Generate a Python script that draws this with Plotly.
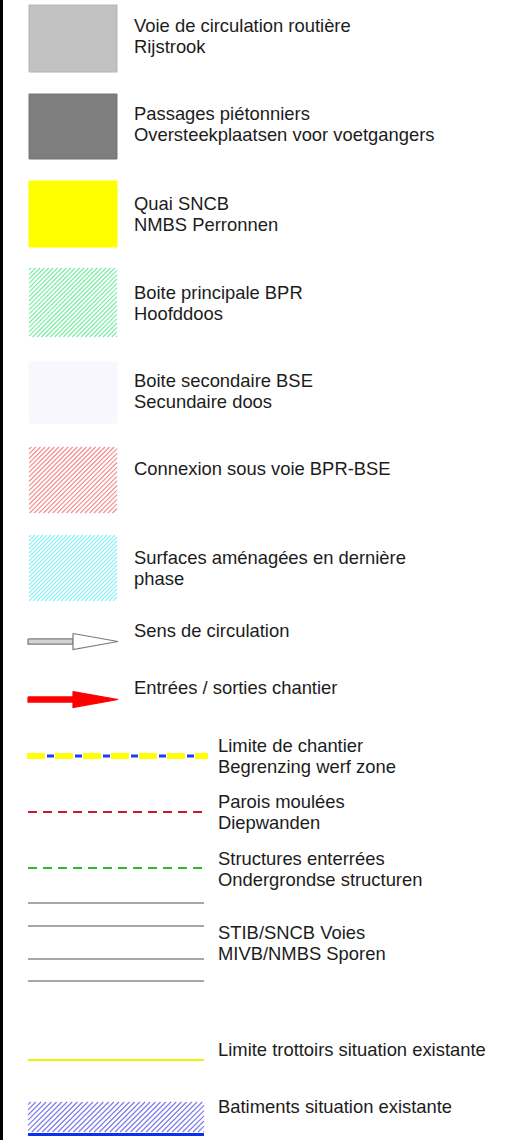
import numpy as np
import plotly.graph_objects as go

# ---------------- data (legend content) ----------------
box_labels = [
    ["Voie de circulation routière", "Rijstrook"],
    ["Passages piétonniers", "Oversteekplaatsen voor voetgangers"],
    ["Quai SNCB", "NMBS Perronnen"],
    ["Boite principale BPR", "Hoofddoos"],
    ["Boite secondaire BSE", "Secundaire doos"],
    ["Connexion sous voie BPR-BSE"],
    ["Surfaces aménagées en dernière", "phase"],
]
arrow_labels = [["Sens de circulation"], ["Entrées / sorties chantier"]]
line_labels = [
    ["Limite de chantier", "Begrenzing werf zone"],
    ["Parois moulées", "Diepwanden"],
    ["Structures enterrées", "Ondergrondse structuren"],
    ["STIB/SNCB Voies", "MIVB/NMBS Sporen"],
    ["Limite trottoirs situation existante"],
    ["Batiments situation existante"],
]

# ---------------- layout constants (pixel space) ----------------
W, H = 529, 1140
FONT = "Liberation Sans, Arial, Helvetica, sans-serif"
TXT = "#1c1c1c"
FS = 18.4
LINE_GAP = 21.5

box_x = (29, 117)
box_y = [(5, 72), (94, 159), (181, 247), (268, 337), (362, 423), (447, 513), (535, 601)]
box_text_y = [25, 113, 203, 292, 380, 468, 557]
box_styles = [
    dict(kind="solid", fill="#c2c2c2", edge="#b4b4b4"),
    dict(kind="solid", fill="#7e7e7e", edge="#747474"),
    dict(kind="solid", fill="#ffff00", edge="#ffff00"),
    dict(kind="hatch", color="#77eda0", step=4.4),
    dict(kind="solid", fill="#f7f7fd", edge="#f7f7fd"),
    dict(kind="hatch", color="#f28a8a", step=4.6),
    dict(kind="hatch", color="#8ef0f4", step=4.0),
]

fig = go.Figure()


def hatch(x0, x1, y0, y1, step):
    xs, ys = [], []
    c = x0 + y0 + step / 2
    while c < x1 + y1:
        xa = max(x0, c - y1)
        xb = min(x1, c - y0)
        if xb > xa:
            xs += [xa, xb, None]
            ys += [c - xa, c - xb, None]
        c += step
    return xs, ys


def label(x, y_first, lines):
    for i, t in enumerate(lines):
        fig.add_annotation(x=x, y=y_first + i * LINE_GAP, text=t, xanchor="left",
                           yanchor="middle", align="left", showarrow=False,
                           font=dict(family=FONT, size=FS, color=TXT))


# left black border
fig.add_trace(go.Scatter(x=[0, 3, 3, 0, 0], y=[0, 0, H, H, 0], fill="toself",
                         fillcolor="#000000", line=dict(width=0), mode="lines",
                         hoverinfo="skip"))

# boxes
for (ya, yb), st, lab, ty in zip(box_y, box_styles, box_labels, box_text_y):
    x0, x1 = box_x
    if st["kind"] == "solid":
        fig.add_trace(go.Scatter(x=[x0, x1, x1, x0, x0], y=[ya, ya, yb, yb, ya],
                                 fill="toself", fillcolor=st["fill"],
                                 line=dict(color=st["edge"], width=1), mode="lines",
                                 hoverinfo="skip"))
    else:
        hx, hy = hatch(x0, x1, ya, yb, st["step"])
        fig.add_trace(go.Scatter(x=hx, y=hy, mode="lines",
                                 line=dict(color=st["color"], width=1.1),
                                 hoverinfo="skip"))
    label(131.5, ty, lab)

# arrows
arrow_y = [641.5, 699.5]
arrow_text_y = [630, 687]
arrow_styles = [dict(fill="#ffffff", edge="#7a7a7a", shaft="#d4d4d4"),
                dict(fill="#ff0000", edge="#ff0000", shaft="#ff0000")]
for ay, ty, st, lab in zip(arrow_y, arrow_text_y, arrow_styles, arrow_labels):
    sh = 2.6
    hh = 8
    fig.add_trace(go.Scatter(x=[28, 73, 73, 28, 28], y=[ay - sh, ay - sh, ay + sh, ay + sh, ay - sh],
                             fill="toself", fillcolor=st["shaft"],
                             line=dict(color=st["edge"], width=1.2), mode="lines",
                             hoverinfo="skip"))
    fig.add_trace(go.Scatter(x=[73, 118, 73, 73], y=[ay - hh, ay, ay + hh, ay - hh],
                             fill="toself", fillcolor=st["fill"],
                             line=dict(color=st["edge"], width=1.2), mode="lines",
                             hoverinfo="skip"))
    label(131.5, ty, lab)

# line-type symbols
lx0, lx1 = 27, 206
# limite de chantier: blue thin dashes under yellow dashes
fig.add_trace(go.Scatter(x=[lx0 + 20, lx1], y=[756, 756], mode="lines",
                         line=dict(color="#1e3cff", width=3, dash="7px,21px"), hoverinfo="skip"))
fig.add_trace(go.Scatter(x=[lx0, lx1 + 2], y=[756, 756], mode="lines",
                         line=dict(color="#ffff00", width=6, dash="18px,10px"), hoverinfo="skip"))
# parois moulées
fig.add_trace(go.Scatter(x=[lx0 + 1, lx1 - 2], y=[812, 812], mode="lines",
                         line=dict(color="#cc1838", width=2, dash="9px,6px"), hoverinfo="skip"))
# structures enterrées
fig.add_trace(go.Scatter(x=[lx0 + 1, lx1 - 2], y=[868, 868], mode="lines",
                         line=dict(color="#2eb82e", width=2, dash="9px,6px"), hoverinfo="skip"))
# tracks
for ty in [903, 926, 959, 981]:
    fig.add_trace(go.Scatter(x=[lx0 + 1, lx1 - 2], y=[ty, ty], mode="lines",
                             line=dict(color="#8a8a8a", width=1.3), hoverinfo="skip"))
# limite trottoirs
fig.add_trace(go.Scatter(x=[lx0 + 1, lx1 - 2], y=[1060, 1060], mode="lines",
                         line=dict(color="#f2f200", width=2), hoverinfo="skip"))
# batiments: hatch + blue base line
hx, hy = hatch(lx0 + 1, lx1 - 2, 1102, 1132, 5.2)
fig.add_trace(go.Scatter(x=hx, y=hy, mode="lines",
                         line=dict(color="#7878e6", width=1.1), hoverinfo="skip"))
fig.add_trace(go.Scatter(x=[lx0 + 1, lx1 - 2], y=[1134.5, 1134.5], mode="lines",
                         line=dict(color="#0a30f0", width=3), hoverinfo="skip"))

line_text_y = [745, 801, 858, 932, 1049, 1106]
for lab, ty in zip(line_labels, line_text_y):
    label(215.5, ty, lab)

fig.update_layout(
    width=W, height=H, autosize=False,
    margin=dict(l=0, r=0, t=0, b=0, pad=0),
    paper_bgcolor="#ffffff", plot_bgcolor="#ffffff",
    showlegend=False,
    xaxis=dict(range=[0, W], visible=False, fixedrange=True),
    yaxis=dict(range=[H, 0], visible=False, fixedrange=True),
)

fig.write_html("out.html", config={"displayModeBar": False},
               post_script="document.body.style.margin='0';")
